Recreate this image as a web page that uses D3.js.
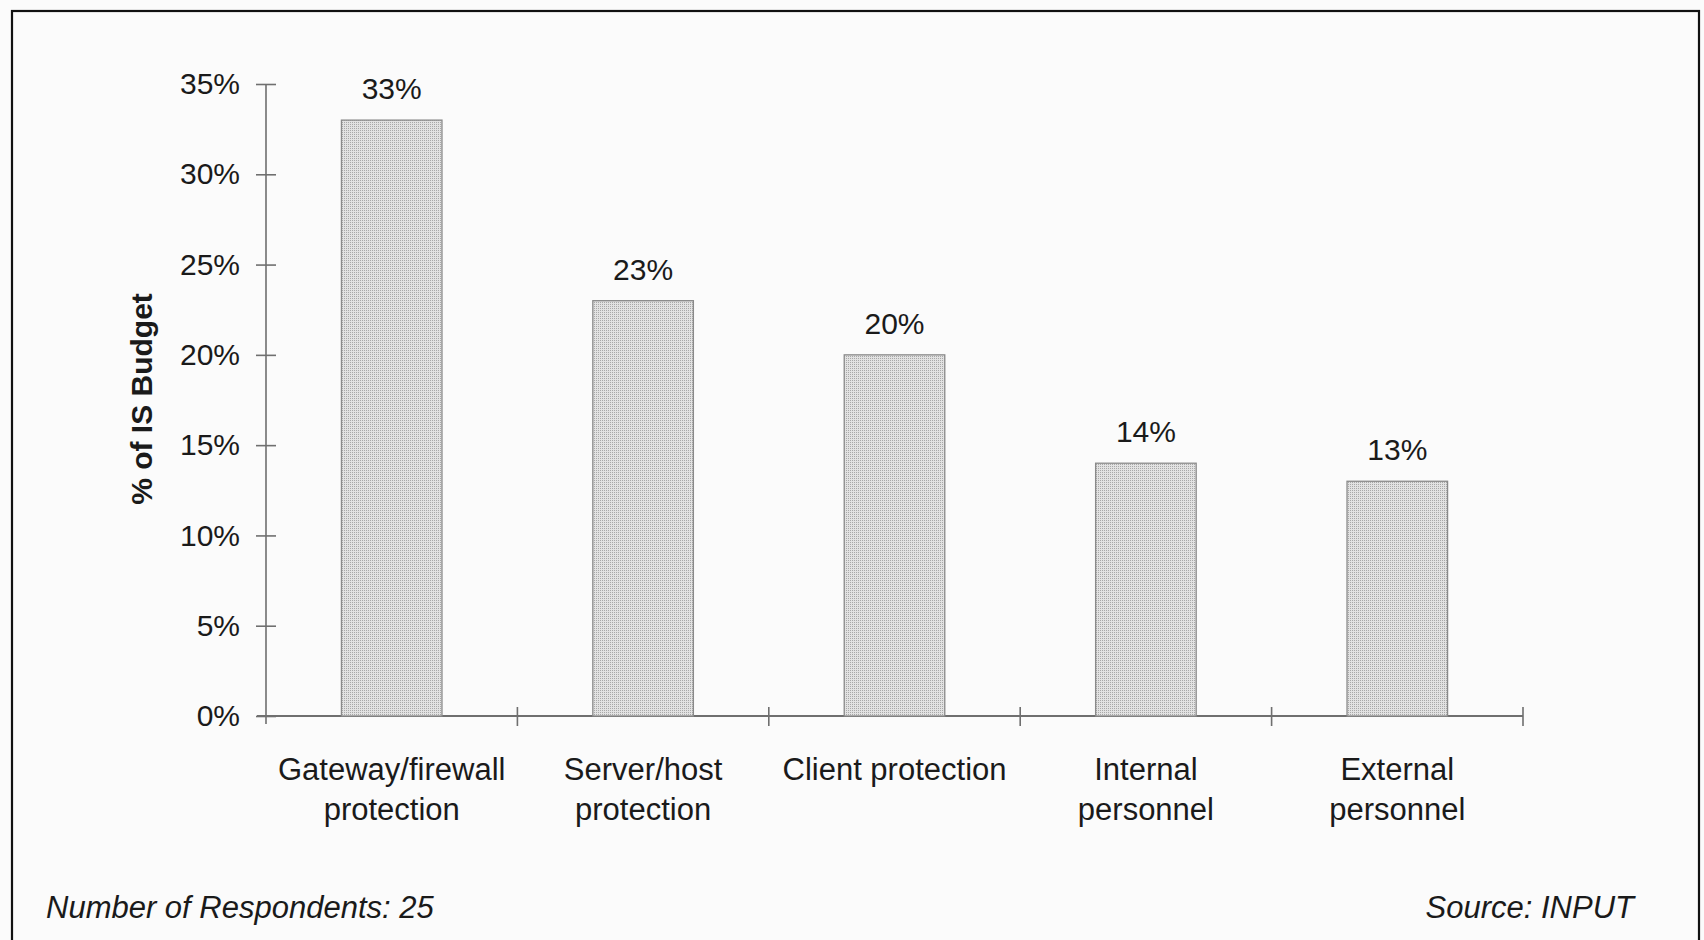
<!DOCTYPE html>
<html>
<head>
<meta charset="utf-8">
<script src="https://cdn.jsdelivr.net/npm/d3@7"></script>
<style>
  html, body { margin: 0; padding: 0; background: #fbfbfb; }
  svg { display: block; }
  text { font-family: "Liberation Sans", Arial, Helvetica, sans-serif; fill: #1a1a1a; }
</style>
</head>
<body>
<svg id="chart" width="1704" height="940"></svg>
<script>
// IS security budget allocation by area
const categories = [
  ["Gateway/firewall", "protection"],
  ["Server/host", "protection"],
  ["Client protection"],
  ["Internal", "personnel"],
  ["External", "personnel"]
];
const shares = [0.33, 0.23, 0.20, 0.14, 0.13];
const yTicks = [0, 0.05, 0.10, 0.15, 0.20, 0.25, 0.30, 0.35];
const yTitle = "% of IS Budget";
const noteLeft = "Number of Respondents: 25";
const noteRight = "Source: INPUT";

const svg = d3.select("#chart");
const W = 1704, H = 940;

// page background and frame
svg.append("rect").attr("width", W).attr("height", H).attr("fill", "#fbfbfb");
svg.append("rect")
  .attr("x", 12).attr("y", 11)
  .attr("width", 1687).attr("height", 960)
  .attr("fill", "none").attr("stroke", "#111").attr("stroke-width", 2.2);

// stippled fill for the bars
const defs = svg.append("defs");
const pat = defs.append("pattern")
  .attr("id", "stipple").attr("patternUnits", "userSpaceOnUse")
  .attr("width", 2).attr("height", 2);
pat.append("rect").attr("width", 2).attr("height", 2).attr("fill", "#e2e2e2");
pat.append("rect").attr("width", 1).attr("height", 1).attr("fill", "#a8a8a8");

const x0 = 266, x1 = 1523, yBase = 716, yTop = 84;
const keys = categories.map(c => c.join(" "));

const x = d3.scaleBand().domain(keys).range([x0, x1])
  .paddingInner(0.6).paddingOuter(0.3);
const y = d3.scaleLinear().domain([0, 0.35]).range([yBase, yTop]);

const axisColor = "#6f6f6f";

// y axis
const yAxis = svg.append("g").attr("transform", `translate(${x0},0)`)
  .call(d3.axisLeft(y).tickValues(yTicks).tickSize(10).tickPadding(16)
    .tickFormat(d => Math.round(d * 100) + "%"));
yAxis.select(".domain").remove();
yAxis.selectAll(".tick line")
  .attr("x1", -10).attr("x2", 10)
  .attr("stroke", axisColor).attr("stroke-width", 1.6);
yAxis.selectAll(".tick text")
  .attr("font-size", 30).attr("fill", "#1a1a1a")
  .attr("font-family", "Liberation Sans, Arial, sans-serif");
yAxis.append("line")
  .attr("x1", 0).attr("x2", 0)
  .attr("y1", y(0.35)).attr("y2", yBase + 8)
  .attr("stroke", axisColor).attr("stroke-width", 1.6);

// x axis baseline and category boundary ticks
svg.append("line")
  .attr("x1", x0 - 9).attr("x2", x1)
  .attr("y1", yBase).attr("y2", yBase)
  .attr("stroke", axisColor).attr("stroke-width", 1.8);
const bounds = d3.range(keys.length + 1).map(i => x0 + i * x.step());
svg.selectAll(".xtick").data(bounds.slice(1)).join("line")
  .attr("class", "xtick")
  .attr("x1", d => d).attr("x2", d => d)
  .attr("y1", yBase - 9).attr("y2", yBase + 10)
  .attr("stroke", axisColor).attr("stroke-width", 1.6);

// bars
svg.selectAll(".bar").data(shares).join("rect")
  .attr("class", "bar")
  .attr("x", (d, i) => x(keys[i]))
  .attr("width", x.bandwidth())
  .attr("y", d => y(d))
  .attr("height", d => yBase - y(d))
  .attr("fill", "url(#stipple)")
  .attr("stroke", "#8a8a8a").attr("stroke-width", 1.3);

// value labels
svg.selectAll(".val").data(shares).join("text")
  .attr("class", "val")
  .attr("x", (d, i) => x(keys[i]) + x.bandwidth() / 2)
  .attr("y", d => y(d) - 21)
  .attr("text-anchor", "middle").attr("font-size", 30)
  .text(d => Math.round(d * 100) + "%");

// category labels
const cat = svg.selectAll(".cat").data(categories).join("text")
  .attr("class", "cat")
  .attr("text-anchor", "middle").attr("font-size", 31)
  .attr("transform", (d, i) => `translate(${x(keys[i]) + x.bandwidth() / 2},${780})`);
cat.selectAll("tspan").data(d => d).join("tspan")
  .attr("x", 0).attr("y", (d, j) => j * 40)
  .text(d => d);

// y axis title
svg.append("text")
  .attr("transform", "translate(152,399) rotate(-90)")
  .attr("text-anchor", "middle").attr("font-size", 30).attr("font-weight", "bold")
  .text(yTitle);

// footnotes
svg.append("text")
  .attr("x", 46).attr("y", 918)
  .attr("font-size", 31).attr("font-style", "italic")
  .text(noteLeft);
svg.append("text")
  .attr("x", 1634).attr("y", 918)
  .attr("text-anchor", "end")
  .attr("font-size", 31).attr("font-style", "italic")
  .text(noteRight);
</script>
</body>
</html>
